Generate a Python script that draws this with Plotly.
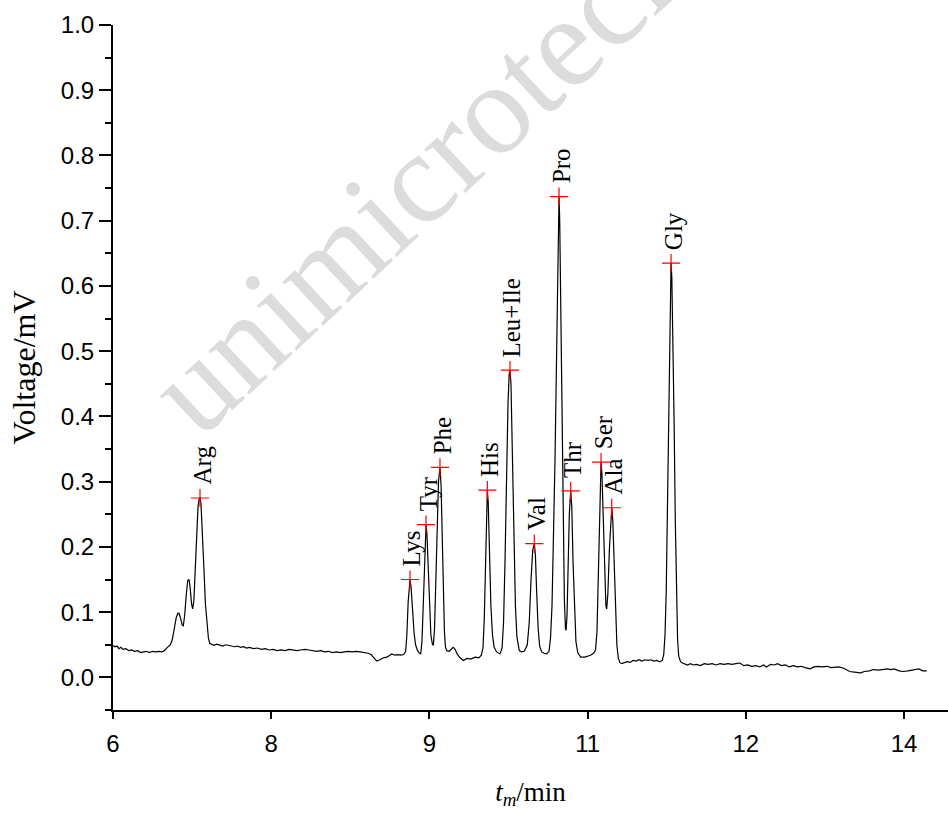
import plotly.graph_objects as go

# ---- chromatogram trace (time in min, voltage in mV) ----
time_min = [
    6.00, 6.02, 6.04, 6.06, 6.08, 6.10, 6.13, 6.16, 6.19, 6.22, 6.25, 6.28, 6.31, 6.34, 6.37, 6.40,
    6.43, 6.46, 6.49, 6.52, 6.55,
    6.58, 6.60, 6.62, 6.64, 6.655, 6.668, 6.685, 6.70, 6.711, 6.725, 6.74, 6.755, 6.769, 6.78, 6.795,
    6.806, 6.818, 6.83, 6.845, 6.86, 6.872, 6.88, 6.89, 6.905, 6.92, 6.935, 6.95, 6.965, 6.98, 7.00, 7.02,
    7.05, 7.08, 7.11, 7.14, 7.17, 7.20, 7.23, 7.26, 7.29, 7.32, 7.35, 7.38, 7.42, 7.46, 7.50, 7.54,
    7.58, 7.62, 7.66, 7.70, 7.74, 7.78, 7.82, 7.86, 7.90, 7.94, 7.98, 8.02, 8.06, 8.10, 8.14, 8.18,
    8.22, 8.26, 8.30, 8.34, 8.38, 8.42, 8.46, 8.50, 8.54, 8.58, 8.61, 8.64, 8.667, 8.70, 8.734, 8.77,
    8.80, 8.82, 8.85, 8.88, 8.91, 8.94,
    8.96, 8.972, 8.985, 8.996, 9.004, 9.015, 9.03, 9.045, 9.06, 9.08, 9.10, 9.112,
    9.125, 9.138, 9.15, 9.16, 9.166, 9.175, 9.188, 9.20, 9.215, 9.23, 9.24,
    9.252, 9.265, 9.278, 9.292, 9.307, 9.318, 9.33, 9.342, 9.352, 9.362, 9.375,
    9.40, 9.42, 9.44, 9.46, 9.48, 9.51, 9.543, 9.58, 9.62, 9.66, 9.70, 9.725,
    9.742, 9.755, 9.768, 9.778, 9.786, 9.795, 9.808, 9.822, 9.838, 9.855, 9.88, 9.914,
    9.935, 9.95, 9.965, 9.98, 9.995, 10.007, 10.015, 10.025, 10.04, 10.055, 10.07, 10.085, 10.10, 10.109,
    10.13, 10.16, 10.19, 10.21, 10.228, 10.245, 10.261, 10.272, 10.285, 10.30, 10.315, 10.335, 10.36, 10.386,
    10.41, 10.425, 10.44, 10.455, 10.47, 10.485, 10.498, 10.506, 10.511, 10.518, 10.528, 10.54, 10.552,
    10.565, 10.576, 10.582,
    10.592, 10.603, 10.615, 10.629, 10.64, 10.653, 10.667, 10.682, 10.70, 10.73, 10.77,
    10.80, 10.83, 10.86, 10.88, 10.895, 10.908, 10.92, 10.93, 10.936, 10.945, 10.958, 10.972, 10.985, 10.993,
    11.005, 11.02, 11.033, 11.044, 11.055, 11.068, 11.082, 11.096, 11.11, 11.125, 11.145,
    11.17, 11.20, 11.23, 11.26, 11.29, 11.32, 11.35, 11.38, 11.41, 11.44, 11.47, 11.50, 11.53, 11.555,
    11.57, 11.583, 11.595, 11.606, 11.617, 11.628, 11.638, 11.644, 11.652, 11.663, 11.675, 11.687, 11.698,
    11.71, 11.722, 11.74, 11.76,
    11.78, 11.81, 11.84, 11.87, 11.90, 11.94, 11.98, 12.02, 12.06, 12.10, 12.14, 12.18, 12.22, 12.26,
    12.30, 12.34, 12.38, 12.42, 12.46, 12.50, 12.54, 12.58, 12.61, 12.65, 12.69, 12.72, 12.76, 12.80,
    12.84, 12.88, 12.92, 12.96, 13.00, 13.05, 13.09, 13.13, 13.17, 13.22, 13.26, 13.30, 13.34, 13.39,
    13.42, 13.45, 13.50, 13.56, 13.60, 13.65, 13.69, 13.74, 13.78, 13.83, 13.87, 13.90, 13.95, 13.99,
    14.04, 14.08, 14.12, 14.15, 14.19, 14.23,
]
voltage_mv = [
    0.049, 0.047, 0.048, 0.044, 0.046, 0.043, 0.044, 0.041, 0.042, 0.040, 0.041, 0.038, 0.039, 0.040, 0.038, 0.040,
    0.039, 0.040, 0.039, 0.041, 0.046,
    0.050, 0.058, 0.075, 0.092, 0.098, 0.098, 0.090, 0.080, 0.079, 0.095, 0.125, 0.148, 0.150, 0.138, 0.112,
    0.105, 0.118, 0.160, 0.220, 0.262, 0.274, 0.275, 0.266, 0.225, 0.165, 0.112, 0.078, 0.060, 0.052, 0.050, 0.049,
    0.051, 0.049, 0.048, 0.050, 0.049, 0.048, 0.047, 0.048, 0.046, 0.047, 0.045, 0.046, 0.044, 0.045, 0.043, 0.044,
    0.042, 0.043, 0.041, 0.042, 0.041, 0.043, 0.042, 0.041, 0.042, 0.043, 0.042, 0.041, 0.040, 0.041, 0.039, 0.040,
    0.038, 0.039, 0.038, 0.039, 0.040, 0.039, 0.040, 0.039, 0.038, 0.037, 0.035, 0.029, 0.025, 0.027, 0.030, 0.031,
    0.034, 0.036, 0.034, 0.035, 0.034, 0.035,
    0.040, 0.065, 0.115, 0.145, 0.150, 0.138, 0.100, 0.068, 0.050, 0.041, 0.037, 0.036,
    0.055, 0.110, 0.185, 0.226, 0.234, 0.220, 0.160, 0.100, 0.065, 0.051, 0.049,
    0.075, 0.140, 0.230, 0.300, 0.322, 0.295, 0.215, 0.125, 0.070, 0.047, 0.041,
    0.040, 0.043, 0.046, 0.043, 0.036, 0.030, 0.026, 0.029, 0.028, 0.031, 0.030, 0.034,
    0.045, 0.090, 0.180, 0.260, 0.287, 0.268, 0.190, 0.110, 0.065, 0.046, 0.039, 0.036,
    0.045, 0.085, 0.180, 0.310, 0.420, 0.465, 0.471, 0.450, 0.350, 0.210, 0.110, 0.062, 0.045, 0.041,
    0.039, 0.040, 0.050, 0.085, 0.150, 0.195, 0.205, 0.188, 0.130, 0.075, 0.048, 0.039, 0.037, 0.036,
    0.040, 0.060, 0.110, 0.200, 0.330, 0.480, 0.640, 0.715, 0.737, 0.700, 0.560, 0.380, 0.220,
    0.120, 0.075, 0.072,
    0.095, 0.165, 0.250, 0.286, 0.262, 0.175, 0.100, 0.055, 0.038, 0.031, 0.031,
    0.032, 0.034, 0.037, 0.042, 0.070, 0.150, 0.250, 0.315, 0.330, 0.312, 0.235, 0.150, 0.110, 0.105,
    0.128, 0.195, 0.245, 0.260, 0.240, 0.170, 0.095, 0.050, 0.030, 0.023, 0.021,
    0.022, 0.024, 0.023, 0.026, 0.025, 0.027, 0.025, 0.027, 0.026, 0.027, 0.025, 0.026, 0.024, 0.026,
    0.035, 0.065, 0.130, 0.250, 0.400, 0.530, 0.615, 0.635, 0.612, 0.520, 0.390, 0.240, 0.120,
    0.058, 0.032, 0.024, 0.022,
    0.021, 0.019, 0.021, 0.019, 0.020, 0.018, 0.021, 0.020, 0.021, 0.019, 0.021, 0.020, 0.021, 0.020,
    0.021, 0.022, 0.018, 0.019, 0.017, 0.018, 0.016, 0.019, 0.016, 0.020, 0.019, 0.021, 0.018, 0.019,
    0.016, 0.018, 0.016, 0.017, 0.015, 0.013, 0.016, 0.017, 0.016, 0.017, 0.015, 0.016, 0.016, 0.014,
    0.012, 0.009, 0.008, 0.007, 0.009, 0.010, 0.012, 0.011, 0.012, 0.013, 0.012, 0.013, 0.010, 0.009,
    0.010, 0.011, 0.013, 0.013, 0.010, 0.010,
]

# ---- labelled peaks ----
peak_names = ["Arg", "Lys", "Tyr", "Phe", "His", "Leu+Ile", "Val", "Pro", "Thr", "Ser", "Ala", "Gly"]
peak_time = [6.88, 9.004, 9.166, 9.307, 9.786, 10.015, 10.261, 10.511, 10.629, 10.936, 11.044, 11.644]
peak_voltage = [0.275, 0.150, 0.234, 0.322, 0.287, 0.471, 0.205, 0.737, 0.286, 0.330, 0.260, 0.635]

# ---- x tick positions and their (rounded) labels as printed on the figure ----
x_tick_values = [6.0, 7.6, 9.2, 10.8, 12.4, 14.0]
x_tick_labels = ["6", "8", "9", "11", "12", "14"]

SERIF = "Liberation Serif, Times New Roman, serif"
SANS = "Liberation Sans, Arial, sans-serif"

fig = go.Figure()
fig.add_trace(go.Scatter(
    x=time_min, y=voltage_mv, mode="lines",
    line=dict(color="black", width=1.2), hoverinfo="skip",
))
fig.add_trace(go.Scatter(
    x=peak_time, y=peak_voltage, mode="markers",
    marker=dict(symbol="cross-thin", size=13, color="red", line=dict(color="red", width=1.2)),
))

annotations = []
# faint watermark
annotations.append(dict(
    text="unimicrotech", xref="paper", yref="paper", x=(420 - 113) / 835, y=(710 - 175) / 685,
    xanchor="center", yanchor="middle",
    showarrow=False, textangle=-43, font=dict(family=SERIF, size=130, color="#dcdcdc"),
))
for name, t, v in zip(peak_names, peak_time, peak_voltage):
    annotations.append(dict(
        text=name, x=t, y=v, xref="x", yref="y", showarrow=False, textangle=-90,
        xanchor="center", yanchor="bottom", yshift=11, xshift=2,
        font=dict(family=SERIF, size=25, color="black"),
    ))

fig.update_layout(
    width=948, height=817,
    margin=dict(l=113, r=0, t=25, b=107),
    plot_bgcolor="white", paper_bgcolor="white",
    showlegend=False,
    annotations=annotations,
    xaxis=dict(
        range=[6, 14.445], tickmode="array", tickvals=x_tick_values, ticktext=x_tick_labels,
        ticks="outside", ticklen=7, tickwidth=2, tickcolor="black",
        showline=True, linewidth=2, linecolor="black", showgrid=False, zeroline=False,
        tickfont=dict(family=SANS, size=24, color="black"), ticklabelstandoff=4,
        title=dict(text="<i>t</i><sub><i>m</i></sub>/min", font=dict(family=SERIF, size=27, color="black"), standoff=26),
    ),
    yaxis=dict(
        range=[-0.05, 1.0], tickmode="linear", tick0=0, dtick=0.1, tickformat=".1f",
        ticks="outside", ticklen=12, tickwidth=2, tickcolor="black",
        minor=dict(tick0=0, dtick=0.05, ticks="outside", ticklen=6, tickwidth=2, tickcolor="black", showgrid=False),
        showline=True, linewidth=2, linecolor="black", showgrid=False, zeroline=False,
        tickfont=dict(family=SANS, size=24, color="black"),
        title=dict(text="Voltage/mV", font=dict(family=SERIF, size=32, color="black"), standoff=16),
    ),
)

fig.write_html("out.html", config={"displayModeBar": False},
               post_script="document.body.style.margin='0px';")
